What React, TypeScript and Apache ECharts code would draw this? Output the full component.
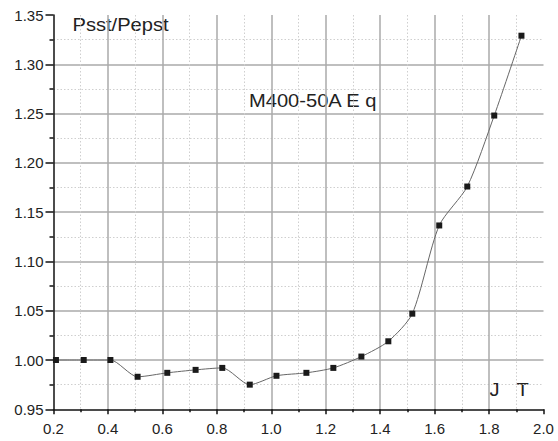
import React, { useEffect, useRef } from "react";
import * as echarts from "echarts";

const xValues = [0.209, 0.311, 0.409, 0.509, 0.618, 0.722, 0.82, 0.921, 1.019, 1.129, 1.228, 1.331, 1.43, 1.518, 1.617, 1.72, 1.819, 1.919];
const yValues = [1.0, 1.0, 1.0, 0.983, 0.987, 0.99, 0.992, 0.975, 0.984, 0.987, 0.992, 1.0035, 1.019, 1.047, 1.1365, 1.176, 1.248, 1.329];
const yAxisTitle = "Psst/Pepst";
const materialLabel = "M400-50A E q";
const xUnitJ = "J";
const xUnitT = "T";

const FONT = "'Liberation Sans', Arial, sans-serif";

export default function App() {
  const ref = useRef<HTMLDivElement>(null);
  useEffect(() => {
    if (!ref.current) return;
    const chart = echarts.init(ref.current, null, { renderer: "svg" });
    const data = xValues.map((x, i) => [x, yValues[i]]);
    const annot = (text: string, x: number, y: number) => ({
      type: "text",
      x,
      y,
      scaleX: 1.15,
      style: {
        text,
        font: `17.5px ${FONT}`,
        fill: "#222",
        verticalAlign: "middle",
        align: "left",
      },
    });
    chart.setOption({
      animation: false,
      backgroundColor: "#ffffff",
      textStyle: { fontFamily: FONT },
      grid: { left: 53.5, right: 14.5, top: 15, bottom: 31.7, containLabel: false },
      xAxis: {
        type: "value",
        min: 0.2,
        max: 2.0,
        interval: 0.2,
        axisLine: { show: true, onZero: false, lineStyle: { color: "#111", width: 1.5 } },
        axisTick: { show: true, inside: false, length: 5, lineStyle: { color: "#111", width: 1.5 } },
        minorTick: { show: true, splitNumber: 2, length: 3, lineStyle: { color: "#111", width: 1.5 } },
        axisLabel: {
          color: "#222",
          fontSize: 15,
          fontFamily: FONT,
          margin: 12,
          formatter: (v: number) => v.toFixed(1),
        },
        splitLine: { show: true, showMinLine: false, showMaxLine: false, lineStyle: { color: "#aaaaaa", width: 1.5 } },
        minorSplitLine: { show: true, lineStyle: { color: "#cfcfcf", width: 1, type: [1.5, 2] } },
      },
      yAxis: {
        type: "value",
        min: 0.95,
        max: 1.35,
        interval: 0.05,
        axisLine: { show: true, onZero: false, lineStyle: { color: "#111", width: 1.5 } },
        axisTick: { show: true, inside: false, length: 8, lineStyle: { color: "#111", width: 1.5 } },
        minorTick: { show: true, splitNumber: 2, length: 4, lineStyle: { color: "#111", width: 1.5 } },
        axisLabel: {
          color: "#222",
          fontSize: 15,
          fontFamily: FONT,
          margin: 10,
          formatter: (v: number) => v.toFixed(2),
        },
        splitLine: { show: true, showMinLine: false, showMaxLine: false, lineStyle: { color: "#aaaaaa", width: 1.5 } },
        minorSplitLine: { show: true, lineStyle: { color: "#cfcfcf", width: 1, type: [1.5, 2] } },
      },
      series: [
        {
          type: "line",
          data,
          smooth: 0.25,
          symbol: "rect",
          symbolSize: 6,
          itemStyle: { color: "#1a1a1a" },
          lineStyle: { color: "#666", width: 1 },
        },
      ],
      graphic: [
        annot(yAxisTitle, 72.5, 25),
        annot(materialLabel, 249, 100.5),
        annot(xUnitJ, 489.5, 390),
        annot(xUnitT, 516.5, 390),
      ],
    });
    return () => chart.dispose();
  }, []);
  return (
    <div
      ref={ref}
      style={{ position: "fixed", left: 0, top: 0, width: 558, height: 441, background: "#fff" }}
    />
  );
}
